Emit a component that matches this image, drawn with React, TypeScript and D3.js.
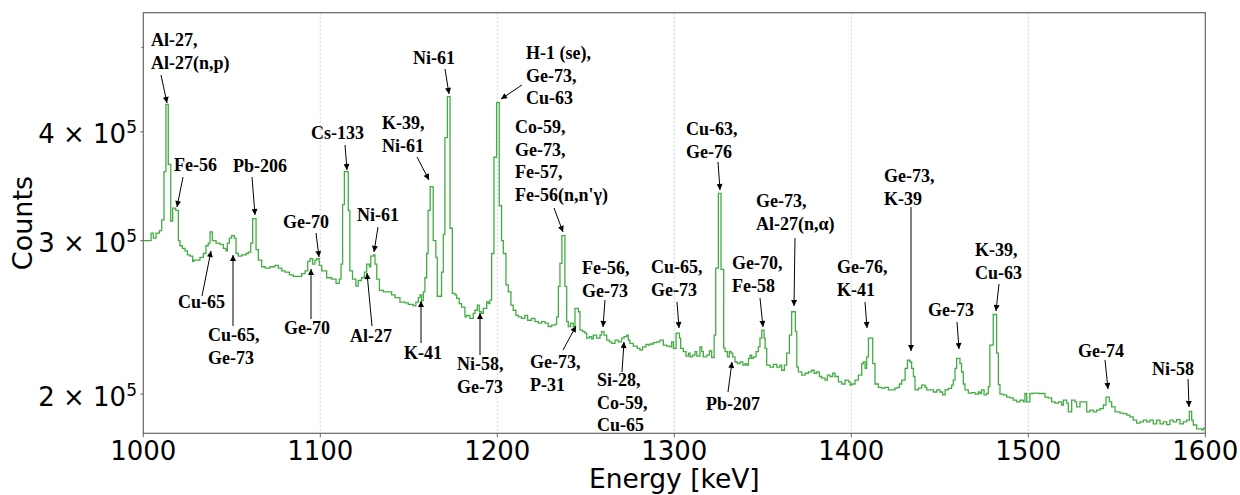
import React from 'react';
import * as d3 from 'd3';

// ---------------- data ----------------
const energyTicks = [1000, 1100, 1200, 1300, 1400, 1500, 1600];
const gridEnergies = [1100, 1200, 1300, 1400, 1500];
const countTickValues = [200000, 300000, 400000];
const countTickMantissa = ['2', '3', '4'];
const countTickExponent = '5';
const minorCountTicks = [500000];

// histogram step starts (keV) and counts (thousands)
const binStartKeV = [
  1000.0, 1004.4, 1005.7, 1007.2, 1009.1, 1010.4, 1011.7, 1012.8, 1014.1, 1015.5,
  1016.6, 1018.3, 1019.8, 1020.7, 1022.1, 1023.6, 1024.9, 1026.4, 1027.9, 1028.6,
  1032.0, 1033.9, 1035.4, 1036.7, 1037.7, 1039.0, 1041.1, 1043.3, 1045.2, 1046.7,
  1047.5, 1048.6, 1049.9, 1051.4, 1052.4, 1053.7, 1055.6, 1058.0, 1059.3, 1060.7,
  1061.8, 1063.7, 1065.0, 1066.9, 1068.8, 1071.6, 1074.4, 1076.3, 1078.2, 1080.1,
  1082.5, 1084.7, 1089.5, 1091.4, 1092.9, 1094.2, 1095.7, 1097.0, 1098.0, 1099.4,
  1100.8, 1103.6, 1106.4, 1108.9, 1110.7, 1111.7, 1112.6, 1113.6, 1115.8, 1116.7,
  1118.2, 1120.1, 1121.4, 1123.3, 1124.9, 1126.2, 1127.7, 1128.5, 1130.0, 1130.9,
  1131.9, 1133.4, 1135.6, 1140.3, 1142.2, 1145.0, 1147.8, 1149.7, 1152.5, 1154.0,
  1155.4, 1156.3, 1157.2, 1158.2, 1159.1, 1160.1, 1160.9, 1162.1, 1163.8, 1165.3,
  1166.1, 1168.5, 1169.5, 1170.4, 1171.8, 1173.3, 1174.6, 1176.1, 1177.0, 1178.5,
  1179.8, 1181.7, 1182.7, 1184.5, 1186.4, 1187.4, 1188.7, 1189.8, 1191.1, 1192.1,
  1194.0, 1194.9, 1195.8, 1196.8, 1198.1, 1199.6, 1201.1, 1202.4, 1203.4, 1204.9,
  1206.2, 1207.7, 1209.0, 1210.5, 1211.9, 1213.7, 1215.6, 1217.1, 1219.4, 1221.3,
  1223.2, 1225.0, 1226.9, 1228.8, 1230.7, 1232.6, 1233.5, 1234.5, 1235.4, 1236.5,
  1238.2, 1239.2, 1240.1, 1241.4, 1242.9, 1243.9, 1245.8, 1246.7, 1248.2, 1249.5,
  1250.5, 1252.0, 1253.3, 1254.2, 1256.1, 1258.0, 1258.9, 1260.3, 1261.8, 1263.3,
  1264.6, 1266.5, 1268.4, 1270.2, 1271.6, 1273.1, 1274.0, 1274.9, 1276.8, 1279.1,
  1280.6, 1282.1, 1284.0, 1285.3, 1286.3, 1288.2, 1290.1, 1291.9, 1293.8, 1295.7,
  1297.6, 1298.5, 1299.5, 1301.0, 1302.9, 1303.6, 1305.1, 1306.6, 1308.0, 1308.9,
  1310.4, 1311.7, 1312.7, 1314.5, 1315.5, 1316.4, 1318.3, 1319.8, 1321.1, 1322.5,
  1323.4, 1324.9, 1326.4, 1327.9, 1328.7, 1330.0, 1331.1, 1332.1, 1333.0, 1334.3,
  1335.6, 1337.1, 1338.7, 1340.0, 1340.9, 1341.9, 1342.8, 1343.7, 1344.7, 1346.2,
  1347.5, 1348.4, 1349.4, 1350.7, 1351.3, 1352.2, 1354.1, 1356.0, 1357.9, 1359.7,
  1360.7, 1362.2, 1363.5, 1365.0, 1366.3, 1368.4, 1369.2, 1370.1, 1372.0, 1373.9,
  1375.8, 1377.6, 1379.0, 1380.5, 1382.0, 1383.3, 1385.2, 1386.5, 1388.0, 1389.5,
  1390.8, 1392.7, 1394.6, 1396.5, 1398.4, 1399.3, 1400.2, 1402.1, 1404.0, 1405.9,
  1406.8, 1407.8, 1408.7, 1409.7, 1412.1, 1413.4, 1415.3, 1417.2, 1419.1, 1421.0,
  1424.7, 1426.0, 1427.2, 1428.5, 1430.4, 1431.7, 1433.2, 1434.1, 1435.1, 1436.0,
  1437.9, 1439.8, 1441.7, 1442.6, 1446.4, 1448.3, 1450.1, 1451.6, 1453.0, 1454.8,
  1456.7, 1457.6, 1458.6, 1459.5, 1461.4, 1462.3, 1463.3, 1464.2, 1466.1, 1468.0,
  1469.9, 1471.8, 1472.7, 1473.6, 1475.0, 1476.5, 1477.4, 1478.3, 1480.2, 1482.1,
  1483.1, 1484.0, 1485.9, 1487.8, 1489.6, 1491.5, 1493.4, 1495.3, 1497.2, 1498.1,
  1499.1, 1500.9, 1502.8, 1505.7, 1509.4, 1511.3, 1513.2, 1515.1, 1517.0, 1518.8,
  1519.8, 1521.7, 1522.6, 1524.5, 1526.4, 1527.3, 1529.2, 1533.0, 1534.8, 1536.7,
  1538.6, 1540.5, 1542.4, 1543.9, 1545.8, 1547.1, 1549.0, 1551.8, 1553.7, 1555.6,
  1557.4, 1559.3, 1561.2, 1563.1, 1565.0, 1566.9, 1568.7, 1570.6, 1572.5, 1574.4,
  1576.3, 1578.2, 1580.0, 1581.9, 1583.8, 1585.7, 1587.6, 1589.5, 1591.0, 1592.3,
  1593.2, 1595.1, 1597.9, 1598.9,
];
const countsK = [
  300, 306, 302, 306, 308, 317, 360, 430, 367, 316,
  327, 325, 300, 296, 294, 292, 289, 288, 284, 285,
  287, 290, 296, 298, 307, 300, 298, 297, 294, 292,
  298, 302, 304, 302, 290, 288, 289, 290, 291, 298,
  318, 293, 285, 280, 279, 280, 281, 279, 277, 276,
  274, 273, 275, 277, 284, 286, 282, 285, 286, 281,
  277, 272, 271, 268, 271, 282, 330, 360, 325, 277,
  271, 266, 270, 272, 276, 282, 280, 288, 289, 282,
  271, 263, 262, 260, 258, 255, 254.5, 253.5, 252.5, 255,
  258, 260, 256, 262, 272, 290, 325, 346, 300, 287,
  259, 276, 305, 394, 439, 310, 261, 260, 257.6, 254,
  251.7, 245.3, 246.3, 244.3, 247.6, 249.6, 253, 248.6, 247.6, 250.9,
  255.2, 254.1, 256.3, 290, 374, 432, 329, 300, 290, 266.9,
  262, 253, 249.6, 246.3, 245.3, 244.3, 246.3, 243.1, 244.3, 242.2,
  241.2, 242.2, 241.2, 239.1, 240, 240.5, 245.3, 265.8, 282.5, 304,
  265.8, 242.2, 239.1, 241.2, 239.1, 250.9, 248.6, 236.8, 235.9, 234.9,
  231.9, 232.8, 231.4, 233.7, 231.9, 233.7, 235.9, 233.7, 230.6, 229.6,
  228.7, 230.6, 229.6, 231.9, 232.8, 233.7, 230.6, 228.7, 227, 225.7,
  224.6, 226.6, 228.1, 227.6, 228.3, 229.1, 229.6, 230.6, 227.6, 227,
  226.6, 229.6, 225.7, 234.9, 231.9, 225.7, 223.8, 221.1, 222.9, 220.7,
  221.7, 223.8, 221.1, 226.6, 223.8, 220.7, 221.7, 224.1, 220.3, 233.7,
  279, 340, 278, 226, 223.8, 220.7, 223.8, 222.9, 220.7, 217.7,
  216.8, 217.7, 215.9, 216.8, 215.9, 219.8, 221.7, 219.8, 220.7, 223.8,
  226.6, 231.9, 236.8, 231.9, 225.7, 215.9, 214.8, 216.3, 214.8, 215.9,
  213, 215.9, 222.9, 233.7, 248.6, 236, 214.8, 212.1, 210.3, 211.3,
  212.1, 213, 211.3, 212.1, 209.5, 208.6, 207.5, 210.3, 209.5, 211.3,
  209.5, 206.6, 205.4, 207.5, 206.6, 204.8, 205.4, 207.5, 210.3, 216.8,
  217.7, 214, 220.7, 231.9, 216.8, 205.4, 203.6, 203.2, 203.6, 202.2,
  203.2, 203.6, 205.4, 207.5, 214, 218.7, 217.7, 214, 209.5, 202.2,
  203.2, 204.8, 203.6, 202.2, 201.1, 202.2, 201.1, 199.6, 202.2, 203,
  204.8, 207.5, 214, 219.8, 216.8, 212, 205.4, 202.2, 200.5, 200.8,
  200, 201.1, 200.3, 202.2, 199.6, 200.3, 204, 227.6, 246.8, 222.9,
  205, 200, 199.6, 198.4, 198, 196.8, 195.9, 196.8, 195.9, 200.3,
  195.9, 200.3, 200.5, 200.3, 198.4, 198, 195.9, 195.3, 195.9, 194.3,
  196.8, 195.3, 190.8, 196.8, 195.9, 193.3, 195.9, 190.8, 191.7, 190.8,
  191.7, 192.4, 194.3, 198.4, 195.9, 193.3, 190.8, 190.2, 189.9, 189.2,
  188.3, 186.7, 185.2, 185.8, 186.7, 185.8, 186.7, 184.8, 186.7, 184.8,
  185.8, 184.5, 186.7, 185.8, 186.9, 184.8, 185.8, 186.7, 191, 186.7,
  184.3, 182.4, 182, 182.8,
];
const lastEdgeKeV = 1600;

// annotation labels with text anchor and arrow (pixel layout)
type Ann = { lines: string[]; x: number; y: number; from: [number, number]; to: [number, number] };
const annotations: Ann[] = [
  { lines: ['Al-27,', 'Al-27(n,p)'], x: 151, y: 46, from: [161, 75], to: [167, 103] },
  { lines: ['Fe-56'], x: 174, y: 171, from: [183, 177], to: [177, 207] },
  { lines: ['Pb-206'], x: 233, y: 172, from: [252, 177], to: [255, 215] },
  { lines: ['Cs-133'], x: 311, y: 139, from: [345, 145], to: [347, 170] },
  { lines: ['K-39,', 'Ni-61'], x: 382, y: 129, from: [417, 157], to: [429, 180] },
  { lines: ['Ni-61'], x: 413, y: 64, from: [445, 69], to: [449, 94] },
  { lines: ['H-1 (se),', 'Ge-73,', 'Cu-63'], x: 526, y: 59, from: [522, 85], to: [501, 99] },
  { lines: ['Co-59,', 'Ge-73,', 'Fe-57,', "Fe-56(n,n'\u03B3)"], x: 515, y: 133, from: [554, 208], to: [563, 232] },
  { lines: ['Ge-70'], x: 283, y: 228, from: [316, 233], to: [319, 257] },
  { lines: ['Ni-61'], x: 357, y: 221, from: [378, 227], to: [374, 252] },
  { lines: ['Cu-65'], x: 178, y: 308, from: [202, 296], to: [211, 251] },
  { lines: ['Cu-65,', 'Ge-73'], x: 208, y: 341, from: [233, 326], to: [233, 255] },
  { lines: ['Ge-70'], x: 284, y: 334, from: [311, 319], to: [311, 269] },
  { lines: ['Al-27'], x: 350, y: 342, from: [372, 326], to: [367, 273] },
  { lines: ['K-41'], x: 404, y: 359, from: [421, 343], to: [421, 301] },
  { lines: ['Ni-58,', 'Ge-73'], x: 457, y: 370, from: [480, 355], to: [480, 313] },
  { lines: ['Ge-73,', 'P-31'], x: 530, y: 368, from: [563, 350], to: [576, 326] },
  { lines: ['Fe-56,', 'Ge-73'], x: 582, y: 274, from: [605, 300], to: [603, 327] },
  { lines: ['Si-28,', 'Co-59,', 'Cu-65'], x: 597, y: 386, from: [622, 372], to: [624, 342] },
  { lines: ['Cu-65,', 'Ge-73'], x: 651, y: 273, from: [677, 302], to: [679, 328] },
  { lines: ['Cu-63,', 'Ge-76'], x: 686, y: 135, from: [718, 162], to: [720, 190] },
  { lines: ['Pb-207'], x: 706, y: 410, from: [728, 392], to: [732, 362] },
  { lines: ['Ge-70,', 'Fe-58'], x: 732, y: 269, from: [760, 298], to: [763, 327] },
  { lines: ['Ge-73,', 'Al-27(n,\u03B1)'], x: 756, y: 207, from: [795, 238], to: [794, 306] },
  { lines: ['Ge-76,', 'K-41'], x: 837, y: 273, from: [865, 302], to: [867, 328] },
  { lines: ['Ge-73,', 'K-39'], x: 884, y: 182, from: [911, 207], to: [911, 351] },
  { lines: ['Ge-73'], x: 928, y: 316, from: [957, 322], to: [959, 349] },
  { lines: ['K-39,', 'Cu-63'], x: 975, y: 256, from: [999, 284], to: [996, 311] },
  { lines: ['Ge-74'], x: 1078, y: 357, from: [1105, 360], to: [1108, 389] },
  { lines: ['Ni-58'], x: 1152, y: 375, from: [1188, 379], to: [1189, 407] },
];

// ---------------- layout ----------------
const W = 1240;
const H = 495;
const plotLeft = 143.3;
const plotRight = 1205.3;
const plotTop = 12.7;
const plotBottom = 433.3;
const lineColor = '#43ad43';
const sans = 'DejaVu Sans, sans-serif';
const serif = 'Liberation Serif, Times New Roman, serif';

export default function App() {
  const x = d3.scaleLinear().domain([1000, 1600]).range([plotLeft, plotRight]);
  const y = d3.scaleLog().domain([180300, 548000]).range([plotBottom, plotTop]);

  const n = Math.min(binStartKeV.length, countsK.length);
  const pts: [number, number][] = [];
  for (let i = 0; i < n; i++) pts.push([binStartKeV[i], countsK[i] * 1000]);
  pts.push([lastEdgeKeV, countsK[n - 1] * 1000]);
  const line = d3
    .line<[number, number]>()
    .x((d) => x(d[0]))
    .y((d) => y(d[1]))
    .curve(d3.curveStepAfter);
  const pathD = line(pts) || '';

  return (
    <div style={{ position: 'absolute', left: 0, top: 0, width: W, height: H, background: '#fff' }}>
      <svg width={W} height={H} viewBox={`0 0 ${W} ${H}`} style={{ display: 'block' }}>
        <defs>
          <marker id="ah" viewBox="0 0 10 10" refX="10" refY="5" markerWidth="8" markerHeight="6"
            markerUnits="userSpaceOnUse" orient="auto">
            <path d="M0,0 L10,5 L0,10 z" fill="#000" />
          </marker>
          <clipPath id="plotClip">
            <rect x={plotLeft} y={plotTop} width={plotRight - plotLeft} height={plotBottom - plotTop} />
          </clipPath>
        </defs>
        <rect x={0} y={0} width={W} height={H} fill="#fff" />

        {/* grid */}
        {gridEnergies.map((e) => (
          <line key={'g' + e} x1={x(e)} x2={x(e)} y1={plotTop} y2={plotBottom}
            stroke="#c8c8c8" strokeWidth={0.8} strokeDasharray="2,2" />
        ))}

        {/* histogram */}
        <path d={pathD} fill="none" stroke={lineColor} strokeWidth={1.3} clipPath="url(#plotClip)" />

        {/* spines */}
        <rect x={plotLeft} y={plotTop} width={plotRight - plotLeft} height={plotBottom - plotTop}
          fill="none" stroke="#666" strokeWidth={1.2} />

        {/* x ticks */}
        {energyTicks.map((e) => (
          <g key={'xt' + e}>
            <line x1={x(e)} x2={x(e)} y1={plotBottom} y2={plotBottom + 4} stroke="#666" strokeWidth={1} />
            <text x={x(e)} y={460} textAnchor="middle" fontFamily={sans} fontSize={26} fill="#000">
              {e}
            </text>
          </g>
        ))}
        <text x={(plotLeft + plotRight) / 2} y={488} textAnchor="middle" fontFamily={sans} fontSize={26.5} fill="#000">
          Energy [keV]
        </text>

        {/* y ticks */}
        {countTickValues.map((v, i) => (
          <g key={'yt' + v}>
            <line x1={plotLeft - 3} x2={plotLeft} y1={y(v)} y2={y(v)} stroke="#666" strokeWidth={1} />
            <text x={137} y={y(v) + 11.5} textAnchor="end" fontFamily={sans} fontSize={26} fill="#000">
              {countTickMantissa[i] + ' \u00D7 10'}
              <tspan fontSize={17} dy={-10}>{countTickExponent}</tspan>
            </text>
          </g>
        ))}
        {minorCountTicks.map((v) => (
          <line key={'ym' + v} x1={plotLeft - 2} x2={plotLeft} y1={y(v)} y2={y(v)} stroke="#666" strokeWidth={1} />
        ))}
        <text transform={`translate(32, ${(plotTop + plotBottom) / 2}) rotate(-90)`} textAnchor="middle"
          fontFamily={sans} fontSize={27} fill="#000">
          Counts
        </text>

        {/* annotations */}
        {annotations.map((a, i) => (
          <g key={'a' + i}>
            {a.lines.map((l, j) => (
              <text key={j} x={a.x} y={a.y + j * 22.5} fontFamily={serif} fontWeight="bold" fontSize={18} fill="#000">
                {l}
              </text>
            ))}
            <line x1={a.from[0]} y1={a.from[1]} x2={a.to[0]} y2={a.to[1]} stroke="#000" strokeWidth={1}
              markerEnd="url(#ah)" />
          </g>
        ))}
      </svg>
    </div>
  );
}
